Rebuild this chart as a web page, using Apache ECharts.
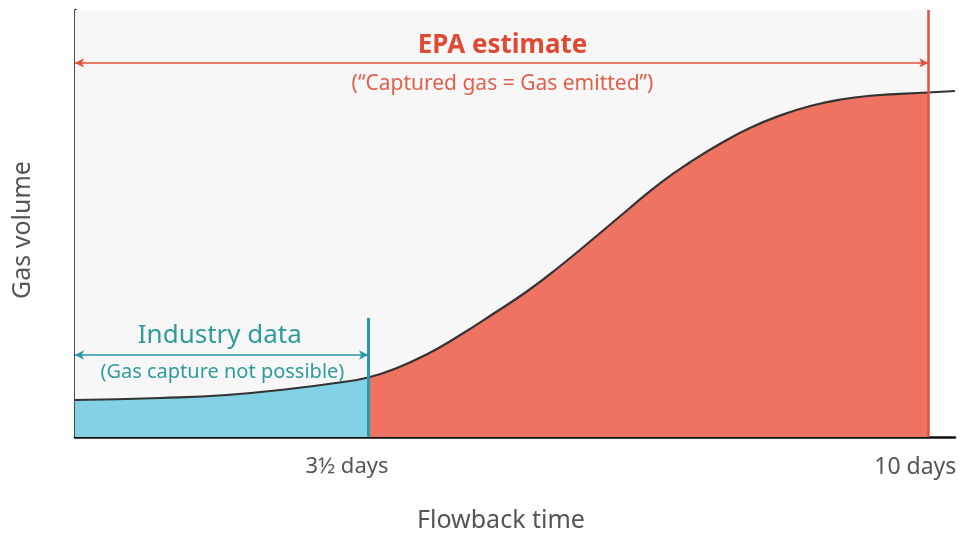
<!DOCTYPE html>
<html>
<head>
<meta charset="utf-8">
<script src="https://cdn.jsdelivr.net/npm/echarts@6/dist/echarts.min.js"></script>
<style>
  html, body { margin: 0; padding: 0; background: #ffffff; }
  #chart { width: 968px; height: 533px; }
</style>
</head>
<body>
<div id="chart"></div>
<script>
// flowback time (days) and gas volume (relative units)
const days = [0.1, 1.09, 1.86, 2.63, 3.21, 3.5, 3.79, 4.19, 4.57, 4.95, 5.35, 5.73, 6.11, 6.51, 6.89, 7.24, 7.59, 7.93, 8.28, 8.63, 8.98, 9.36, 10, 10.31];
const volume = [8.67, 9.13, 9.84, 11.36, 12.88, 13.93, 15.81, 19.44, 23.89, 28.81, 34.19, 40.05, 46.37, 53.16, 59.48, 64.4, 68.74, 72.37, 75.29, 77.52, 79.04, 79.98, 80.68, 81.03];

const tickValues = [3.5, 10];
const tickLabels = ["3½ days", "10 days"];

const industryEnd = 3.5;
const epaEnd = 10;

const FONT = "'Noto Sans', sans-serif";
const RED = "#e3503b";
const TEAL = "#2a9aa8";
const BLUE_FILL = "#82d1e5";
const RED_FILL = "#ee7461";
const GREY_TEXT = "#555555";

const chart = echarts.init(document.getElementById("chart"), null, { renderer: "canvas" });

function textPoint(x, y, text, size, color, weight) {
  return {
    coord: [x, y],
    symbolSize: 1,
    itemStyle: { color: "rgba(0,0,0,0)" },
    label: {
      show: true,
      position: "inside",
      formatter: text,
      fontFamily: FONT,
      fontSize: size,
      fontWeight: weight || "normal",
      color: color,
    },
  };
}

chart.setOption({
  animation: false,
  textStyle: { fontFamily: FONT },
  grid: { left: 75, right: 13, top: 10, bottom: 96, outerBoundsMode: "none", containLabel: false },
  xAxis: {
    type: "value",
    min: 0.1,
    max: 10.31,
    name: "Flowback time",
    nameLocation: "middle",
    nameGap: 71,
    nameTextStyle: { fontSize: 25, color: GREY_TEXT, fontFamily: FONT, padding: [0, 28, 0, 0] },
    axisLine: { show: true, lineStyle: { color: "#111", width: 2.5 } },
    axisTick: { show: false },
    splitLine: { show: false },
    axisLabel: {
      customValues: tickValues,
      margin: 19,
      formatter: (v) => {
        const i = tickValues.indexOf(v);
        return i === 0 ? "{a|" + tickLabels[0] + "}" : "{b|" + tickLabels[1] + "}";
      },
      rich: {
        a: { fontSize: 22, color: GREY_TEXT, fontFamily: FONT, padding: [0, 42, 0, 0] },
        b: { fontSize: 23, color: GREY_TEXT, fontFamily: FONT, padding: [0, 26, 0, 0] },
      },
    },
  },
  yAxis: {
    type: "value",
    min: 0,
    max: 100,
    name: "Gas volume",
    nameLocation: "middle",
    nameGap: 40,
    nameTextStyle: { fontSize: 25, color: GREY_TEXT, fontFamily: FONT, padding: [0, 13, 0, 0] },
    axisLine: { show: true, lineStyle: { color: "#111", width: 2.5 } },
    axisTick: { show: false },
    axisLabel: { show: false },
    splitLine: { show: false },
  },
  visualMap: {
    show: false,
    type: "piecewise",
    seriesIndex: 0,
    dimension: 0,
    pieces: [
      { gte: 0, lt: industryEnd, color: BLUE_FILL },
      { gte: industryEnd, lte: epaEnd, color: RED_FILL },
      { gt: epaEnd, color: "rgba(255,255,255,0)" },
    ],
  },
  series: [
    {
      type: "line",
      data: days.map((d, i) => [d, volume[i]]),
      smooth: 0.5,
      showSymbol: false,
      lineStyle: { color: "#333333", width: 2.2 },
      areaStyle: { opacity: 1 },
      markArea: {
        silent: true,
        itemStyle: { color: "#f7f7f7" },
        data: [[{ xAxis: 0.1 }, { xAxis: epaEnd }]],
      },
      markLine: {
        silent: true,
        symbol: "none",
        label: { show: false },
        data: [
          [
            { coord: [industryEnd, 0], lineStyle: { color: TEAL, width: 3, type: "solid" } },
            { coord: [industryEnd, 27.9] },
          ],
          [
            { coord: [epaEnd, 0], lineStyle: { color: RED, width: 2.5, type: "solid" } },
            { coord: [epaEnd, 100] },
          ],
          [
            { coord: [0.1, 87.6], symbol: "arrow", symbolSize: [7, 9], lineStyle: { color: RED, width: 1.5, type: "solid" } },
            { coord: [epaEnd, 87.6], symbol: "arrow", symbolSize: [7, 9] },
          ],
          [
            { coord: [0.1, 19.2], symbol: "arrow", symbolSize: [7, 9], lineStyle: { color: TEAL, width: 1.5, type: "solid" } },
            { coord: [industryEnd, 19.2], symbol: "arrow", symbolSize: [7, 9] },
          ],
        ],
      },
      markPoint: {
        silent: true,
        data: [
          textPoint(5.06, 91.6, "EPA estimate", 26, "#df4a34", "bold"),
          textPoint(5.06, 82.5, "(“Captured gas = Gas emitted”)", 21, "#e0604c"),
          textPoint(1.78, 23.6, "Industry data", 26, "#2f9b9d"),
          textPoint(1.81, 15.0, "(Gas capture not possible)", 20, "#2f9b9d"),
        ],
      },
    },
  ],
});
</script>
</body>
</html>
